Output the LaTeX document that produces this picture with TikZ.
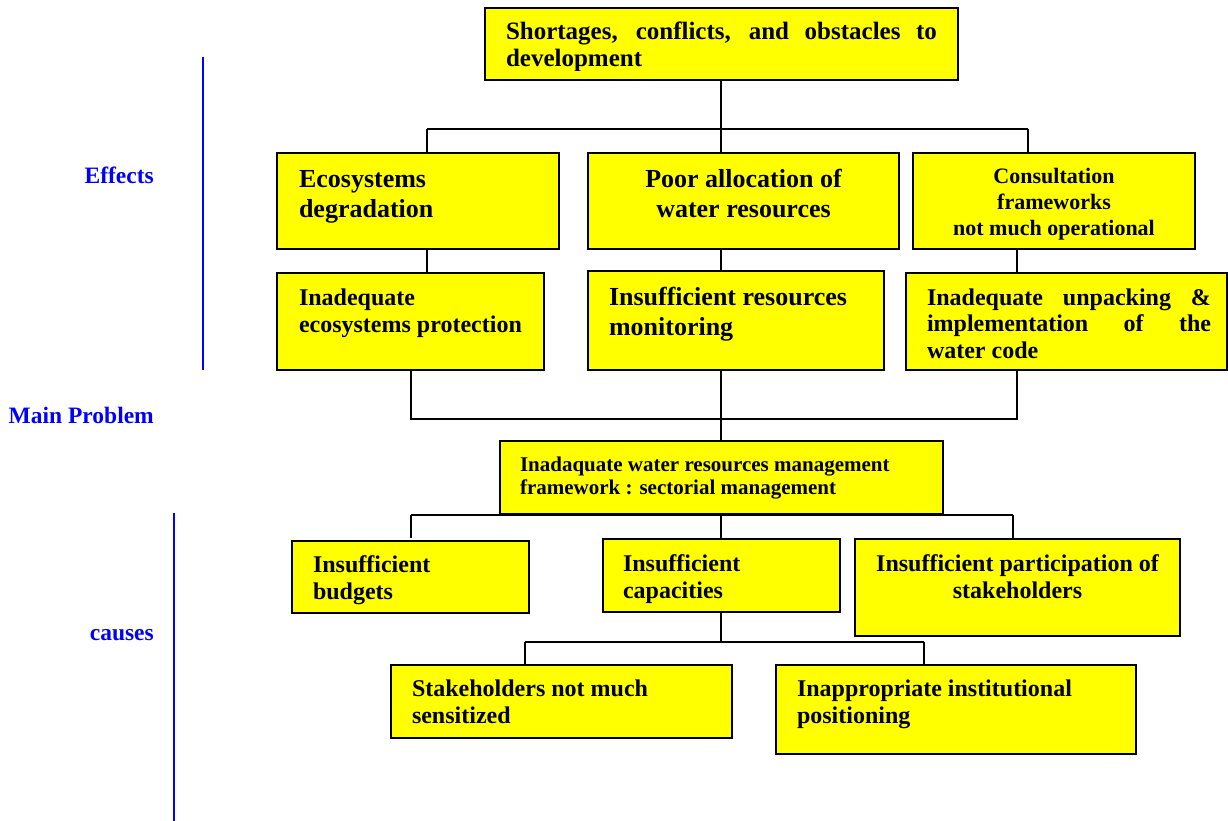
\documentclass[tikz,border=0pt]{standalone}
\usepackage{fontspec}
\setmainfont{Liberation Serif}
\definecolor{boxyellow}{HTML}{FFFF00}
\definecolor{lblblue}{HTML}{0000FF}
\begin{document}
\begin{tikzpicture}[x=1pt,y=-1pt,
  box/.style={draw=black, line width=1.8pt, fill=boxyellow, anchor=north west, inner sep=0pt, outer sep=0pt},
  txt/.style={inner sep=0pt, outer sep=0pt, text=black},
  bigf/.style={font=\bfseries\fontsize{26}{30}\selectfont},
  medf/.style={font=\bfseries\fontsize{24}{26.5}\selectfont},
  conn/.style={draw=black, line width=1.8pt},
  blueline/.style={draw=lblblue, line width=2pt},
  lbl/.style={inner sep=0pt, text=lblblue, font=\bfseries\fontsize{23.5}{26}\selectfont, anchor=base east}
]
\useasboundingbox (0,0) rectangle (1228,821);

% side labels and bars
\draw[blueline] (203,57) -- (203,370);
\draw[blueline] (174,513) -- (174,821);
\node[lbl] (leff) at (154,184) {Effects};
\node[lbl] (lmain) at (154,423) {Main Problem};
\node[lbl] (lcause) at (154,640) {causes};

% top box
\node[box, minimum width=473pt, minimum height=72pt] (top) at (485,8) {};
\begin{scope}
  \clip (487,10) rectangle (956,71);
  \node[txt, anchor=base west, align=left, font=\bfseries\fontsize{25}{27}\selectfont] (topt) at (506,67)
    {\makebox[431pt][s]{Shortages, conflicts, and obstacles to}\\development};
\end{scope}

% effects row 1
\node[box, minimum width=282pt, minimum height=96pt] (eco) at (277,153) {};
\node[txt, bigf, anchor=base west, align=left] (ecot) at (299,218) {Ecosystems\\degradation};
\node[box, minimum width=311pt, minimum height=96pt] (poor) at (588,153) {};
\node[txt, bigf, anchor=base, align=center] (poort) at (743.5,218) {Poor allocation of\\water resources};
\node[box, minimum width=282pt, minimum height=96pt] (cons) at (913,153) {};
\node[txt, anchor=base, align=center, font=\bfseries\fontsize{22}{26}\selectfont] (const) at (1054,235) {Consultation\\frameworks\\not much operational};

% effects row 2
\node[box, minimum width=267pt, minimum height=97pt] (inprot) at (277,273) {};
\node[txt, medf, anchor=base west, align=left] (inprott) at (299,332) {Inadequate\\ecosystems protection};
\node[box, minimum width=296pt, minimum height=99pt] (monit) at (588,271) {};
\node[txt, bigf, anchor=base west, align=left] (monitt) at (609,335) {Insufficient resources\\monitoring};
\node[box, minimum width=321pt, minimum height=97pt] (unpack) at (906,273) {};
\node[txt, anchor=base west, align=left, font=\bfseries\fontsize{24}{26.5}\selectfont] (unpackt) at (927,358)
  {\makebox[284pt][s]{Inadequate unpacking \&}\\\makebox[284pt][s]{implementation of the}\\water code};

% main problem
\node[box, minimum width=443pt, minimum height=73pt] (main) at (500,441) {};
\node[txt, anchor=base west, align=left, font=\bfseries\fontsize{21}{23}\selectfont] (maint) at (520,494)
  {Inadaquate water resources management\\framework : sectorial management};

% causes row 1
\node[box, minimum width=237pt, minimum height=72pt] (budg) at (292,541) {};
\node[txt, medf, anchor=base west, align=left] (budgt) at (313,599) {Insufficient\\budgets};
\node[box, minimum width=237pt, minimum height=73pt] (capa) at (603,539) {};
\node[txt, medf, anchor=base west, align=left] (capat) at (623,598) {Insufficient\\capacities};
\node[box, minimum width=325pt, minimum height=97pt] (part) at (855,539) {};
\node[txt, medf, anchor=base, align=center] (partt) at (1017.5,598) {Insufficient participation of\\stakeholders};

% causes row 2
\node[box, minimum width=341pt, minimum height=73pt] (stak) at (391,665) {};
\node[txt, medf, anchor=base west, align=left] (stakt) at (412,723) {Stakeholders not much\\sensitized};
\node[box, minimum width=360pt, minimum height=89pt] (inap) at (776,665) {};
\node[txt, medf, anchor=base west, align=left] (inapt) at (797,723) {Inappropriate institutional\\positioning};

% junction coordinates
\coordinate (ja) at (427,129);
\coordinate (jb) at (721,129);
\coordinate (jc) at (1028,129);
\coordinate (jl) at (411,419);
\coordinate (jm) at (721,419);
\coordinate (jr) at (1017,419);
\coordinate (kl) at (411,515);
\coordinate (km) at (721,515);
\coordinate (kr) at (1013,515);
\coordinate (ml) at (525,642);
\coordinate (mm) at (721,642);
\coordinate (mr) at (924,642);

% connectors: top to effects
\draw[conn] (jb |- top.south) -- (jb);
\draw[conn] (ja) -- (jc);
\draw[conn] (ja) -- (ja |- eco.north);
\draw[conn] (jb) -- (jb |- poor.north);
\draw[conn] (jc) -- (jc |- cons.north);
% effects row 1 to row 2
\draw[conn] (ja |- eco.south) -- (ja |- inprot.north);
\draw[conn] (jb |- poor.south) -- (jb |- monit.north);
\draw[conn] (jr |- cons.south) -- (jr |- unpack.north);
% effects to main problem
\draw[conn] (jl |- inprot.south) -- (jl) -- (jr) -- (jr |- unpack.south);
\draw[conn] (jm |- monit.south) -- (jm |- main.north);
% main problem to causes
\draw[conn] (kl) -- (kr);
\draw[conn] (kl) -- ([yshift=3pt]kl |- budg.north);
\draw[conn] (km) -- (km |- capa.north);
\draw[conn] (kr) -- (kr |- part.north);
% capacities to sub causes
\draw[conn] (mm |- capa.south) -- (mm);
\draw[conn] (ml) -- (mr);
\draw[conn] (ml) -- (ml |- stak.north);
\draw[conn] (mr) -- (mr |- inap.north);
\end{tikzpicture}
\end{document}
